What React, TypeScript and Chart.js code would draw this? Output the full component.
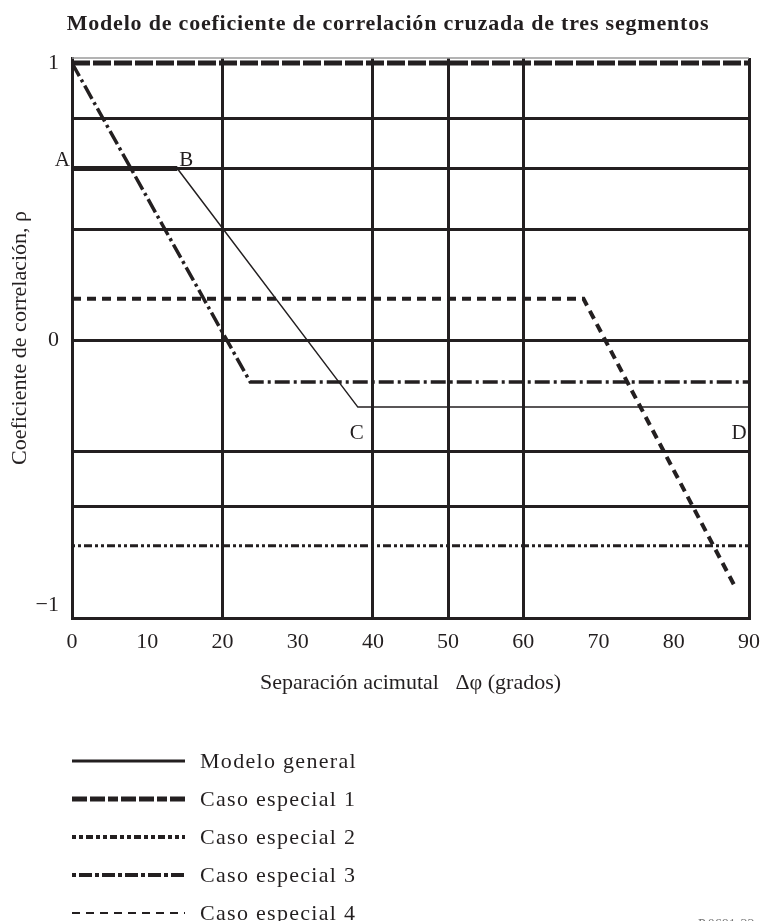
import React, { useEffect, useRef } from 'react';
import { Chart, registerables } from 'chart.js';

Chart.register(...registerables);

const TITLE = 'Modelo de coeficiente de correlación cruzada de tres segmentos';
const X_TITLE = 'Separación acimutal   Δφ (grados)';
const Y_TITLE = 'Coeficiente de correlación, ρ';
const FIG_CODE = 'P.0681-22';

const xTickValues = [0, 10, 20, 30, 40, 50, 60, 70, 80, 90];
const xGridValues = [20, 40, 50, 60, 90];
const yTickValues = [-1, -0.6, -0.4, 0, 0.4, 0.62, 0.8, 1];
const yGridValues = [-0.6, -0.4, 0, 0.4, 0.62, 0.8];

const generalX = [0, 14, 38, 90];
const generalY = [0.62, 0.62, -0.24, -0.24];
const case1X = [0, 90];
const case1Y = [1, 1];
const case2X = [0, 90];
const case2Y = [-0.74, -0.74];
const case3X = [0, 23.7, 90];
const case3Y = [1, -0.15, -0.15];
const case4X = [0, 68, 88];
const case4Y = [0.15, 0.15, -0.88];

const pointLabels = ['A', 'B', 'C', 'D'];
const legendLabels = ['Modelo general', 'Caso especial 1', 'Caso especial 2', 'Caso especial 3', 'Caso especial 4'];

const INK = '#231f20';
const SERIF = "'Liberation Serif', 'Times New Roman', serif";

const toPoints = (xs: number[], ys: number[]) => xs.map((x, i) => ({ x, y: ys[i] }));

const legendStyles = [
  { width: 3, dash: [] as number[] },
  { width: 5, dash: [15, 3, 15, 3, 10, 3] },
  { width: 4, dash: [4, 3, 4, 3, 7, 3] },
  { width: 4, dash: [4, 3, 13, 3] },
  { width: 2, dash: [8, 6] },
];

const decorPlugin = {
  id: 'decor',
  afterDraw(chart: any) {
    const { ctx, chartArea } = chart;
    ctx.save();
    // top frame line
    ctx.strokeStyle = '#9a9a9a';
    ctx.lineWidth = 1.5;
    ctx.beginPath();
    ctx.moveTo(chartArea.left, chartArea.top);
    ctx.lineTo(chartArea.right, chartArea.top);
    ctx.stroke();

    // title
    ctx.fillStyle = INK;
    ctx.font = `bold 22px ${SERIF}`;
    (ctx as any).letterSpacing = '0.8px';
    ctx.textAlign = 'center';
    ctx.textBaseline = 'middle';
    ctx.fillText(TITLE, 388, 24);
    (ctx as any).letterSpacing = '0px';

    // point labels for the general model
    const meta = chart.getDatasetMeta(0);
    const pts = meta.data;
    ctx.font = `21px ${SERIF}`;
    ctx.textBaseline = 'alphabetic';
    ctx.textAlign = 'right';
    ctx.fillText(pointLabels[0], pts[0].x - 2, pts[0].y - 2);
    ctx.textAlign = 'left';
    ctx.fillText(pointLabels[1], pts[1].x + 2, pts[1].y - 2);
    ctx.textAlign = 'center';
    ctx.fillText(pointLabels[2], pts[2].x - 1, pts[2].y + 32);
    ctx.fillText(pointLabels[3], pts[3].x - 10, pts[3].y + 32);

    // legend
    const x0 = 72;
    const x1 = 185;
    const ys = [761, 799, 837, 875, 913];
    legendLabels.forEach((label, i) => {
      const st = legendStyles[i];
      ctx.strokeStyle = INK;
      ctx.lineWidth = st.width;
      ctx.setLineDash(st.dash);
      ctx.beginPath();
      ctx.moveTo(x0, ys[i]);
      ctx.lineTo(x1, ys[i]);
      ctx.stroke();
      ctx.setLineDash([]);
      ctx.fillStyle = INK;
      ctx.font = `22px ${SERIF}`;
      (ctx as any).letterSpacing = '1.3px';
      ctx.textAlign = 'left';
      ctx.textBaseline = 'middle';
      ctx.fillText(label, 200, ys[i] + 1);
      (ctx as any).letterSpacing = '0px';
    });

    // figure code (cut off at bottom)
    ctx.fillStyle = '#777';
    ctx.font = `14px ${SERIF}`;
    ctx.textAlign = 'left';
    ctx.textBaseline = 'alphabetic';
    ctx.fillText(FIG_CODE, 698, 929);
    ctx.restore();
  },
};

export default function App() {
  const canvasRef = useRef<HTMLCanvasElement | null>(null);

  useEffect(() => {
    document.body.style.margin = '0';
    const canvas = canvasRef.current;
    if (!canvas) return;

    const chart = new Chart(canvas, {
      type: 'line',
      data: {
        datasets: [
          {
            label: legendLabels[0],
            data: toPoints(generalX, generalY),
            borderColor: INK,
            borderWidth: 1.5,
            pointRadius: 0,
            segment: {
              borderWidth: (c: any) => (c.p0DataIndex === 0 ? 5 : 1.5),
            },
          } as any,
          {
            label: legendLabels[1],
            data: toPoints(case1X, case1Y),
            borderColor: INK,
            borderWidth: 5,
            borderDash: [18, 3],
            pointRadius: 0,
            clip: false,
          },
          {
            label: legendLabels[2],
            data: toPoints(case2X, case2Y),
            borderColor: INK,
            borderWidth: 3,
            borderDash: [3, 3, 3, 3, 8, 3],
            pointRadius: 0,
          },
          {
            label: legendLabels[3],
            data: toPoints(case3X, case3Y),
            borderColor: INK,
            borderWidth: 3.5,
            borderDash: [15, 4, 3, 4],
            pointRadius: 0,
          },
          {
            label: legendLabels[4],
            data: toPoints(case4X, case4Y),
            borderColor: INK,
            borderWidth: 4,
            borderDash: [9, 6],
            pointRadius: 0,
          },
        ],
      },
      options: {
        responsive: false,
        animation: false,
        devicePixelRatio: 1,
        layout: { padding: { top: 58, right: 17, bottom: 213, left: 0 } },
        plugins: {
          legend: { display: false },
          title: { display: false },
          tooltip: { enabled: false },
        },
        scales: {
          x: {
            type: 'linear',
            min: 0,
            max: 90,
            afterBuildTicks: (scale: any) => {
              scale.ticks = xTickValues.map((v) => ({ value: v }));
            },
            afterFit: (scale: any) => {
              scale.height = 90;
              scale.paddingLeft = 0;
              scale.paddingRight = 0;
            },
            grid: {
              drawTicks: false,
              lineWidth: 3,
              color: (c: any) => (c.tick && xGridValues.includes(c.tick.value) ? INK : 'rgba(0,0,0,0)'),
            },
            border: { display: true, color: INK, width: 3 },
            ticks: {
              padding: 11,
              color: INK,
              font: { family: SERIF, size: 22 },
              maxRotation: 0,
              autoSkip: false,
              callback: (v: any) => String(v),
            },
            title: {
              display: true,
              text: X_TITLE,
              color: INK,
              font: { family: SERIF, size: 22 },
              padding: { top: 0, bottom: 12 },
            },
          },
          y: {
            type: 'linear',
            min: -1,
            max: 1.018,
            afterBuildTicks: (scale: any) => {
              scale.ticks = yTickValues.map((v) => ({ value: v }));
            },
            afterFit: (scale: any) => {
              scale.width = 72;
              scale.paddingTop = 0;
              scale.paddingBottom = 0;
            },
            grid: {
              drawTicks: false,
              lineWidth: 3,
              color: (c: any) => (c.tick && yGridValues.includes(c.tick.value) ? INK : 'rgba(0,0,0,0)'),
            },
            border: { display: true, color: INK, width: 3 },
            ticks: {
              padding: 13,
              color: INK,
              font: { family: SERIF, size: 22 },
              autoSkip: false,
              callback: (v: any) => {
                if (v === -1) return ['−1', ''];
                if (v === 0) return '0';
                if (v === 1) return '1';
                return '';
              },
            },
            title: {
              display: true,
              text: Y_TITLE,
              color: INK,
              font: { family: SERIF, size: 22 },
              padding: { top: 7, bottom: 0 },
            },
          },
        },
      },
      plugins: [decorPlugin],
    });

    return () => chart.destroy();
  }, []);

  return (
    <canvas
      ref={canvasRef}
      width={766}
      height={921}
      style={{ display: 'block', width: 766, height: 921 }}
    />
  );
}
